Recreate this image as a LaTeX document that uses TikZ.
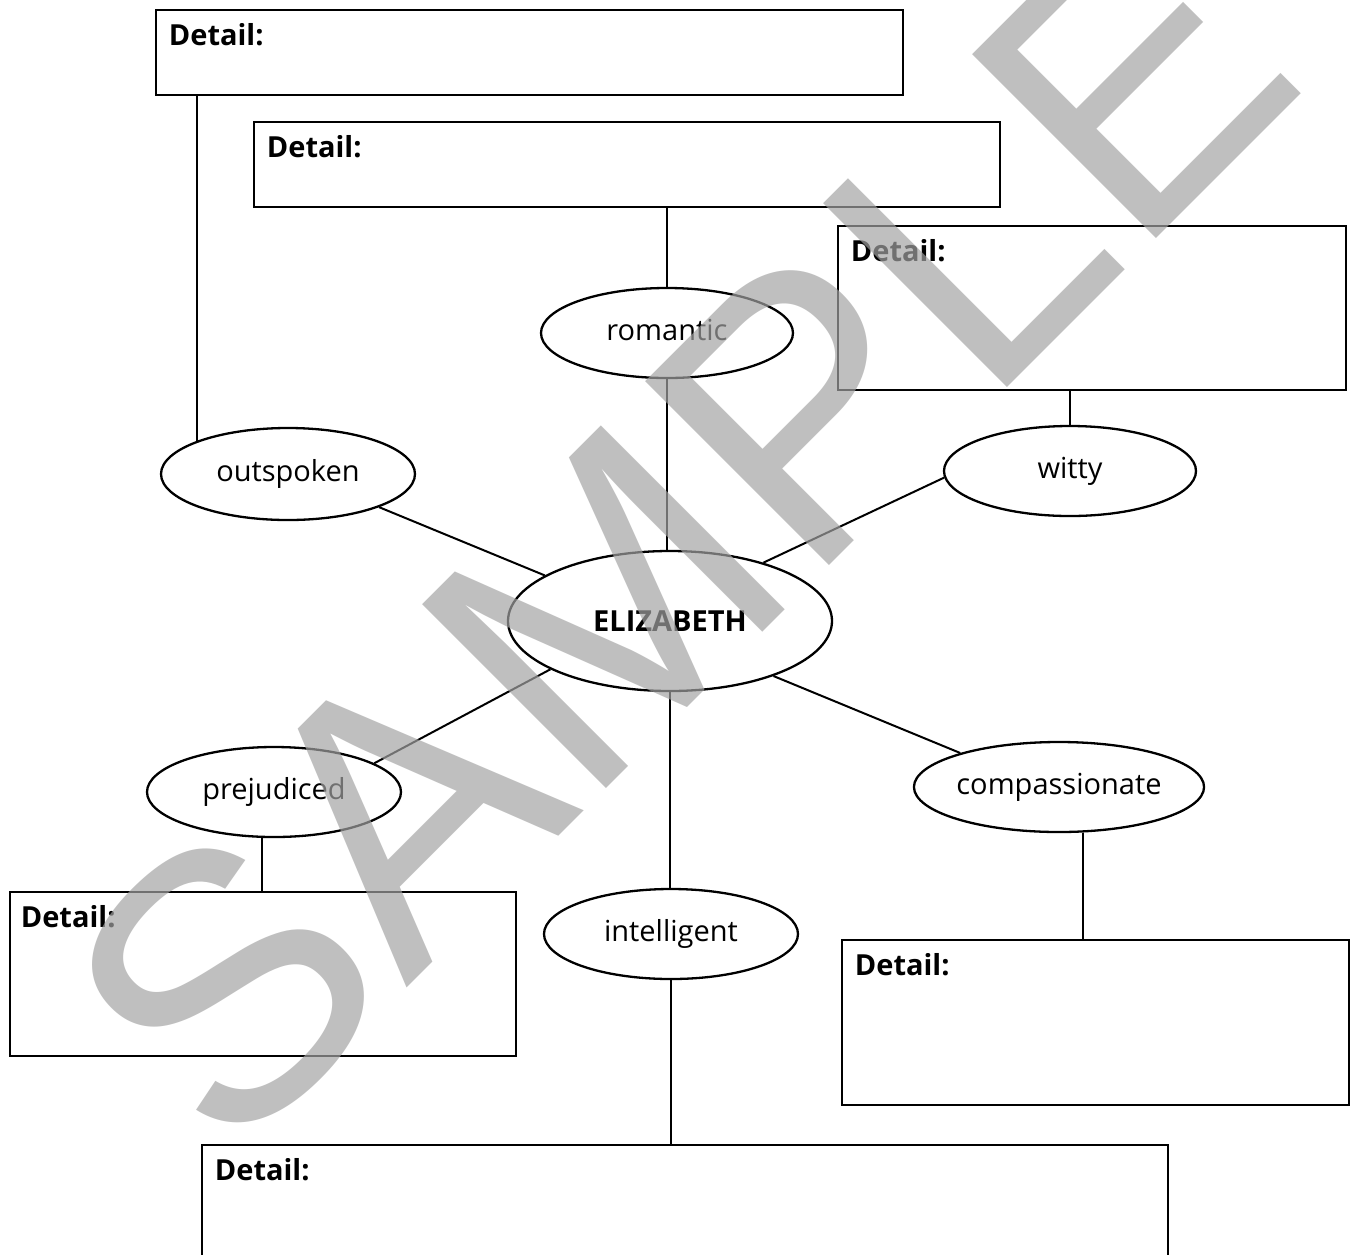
\documentclass[tikz,border=0pt]{standalone}
\usepackage{fontspec}
\setmainfont{Open Sans}
\newfontfamily\wmfont{Liberation Sans}
\usetikzlibrary{shapes.geometric,calc}
\definecolor{wmgray}{RGB}{163,163,163}
\begin{document}
\begin{tikzpicture}[x=1pt,y=-1pt,
  ell/.style={ellipse, draw, line width=2.3pt, inner sep=0pt, text height=15pt, text depth=0pt, font=\fontsize{29}{34}\selectfont},
  dbox/.style={rectangle, draw, line width=2.6pt, inner sep=0pt},
  dlabel/.style={anchor=base west, inner sep=0pt, font=\fontsize{29}{34}\selectfont\bfseries},
  conn/.style={line width=2pt},
  wmark/.style={anchor=base west, inner sep=0pt, rotate=45, text=wmgray, text opacity=0.69, font=\wmfont\fontsize{378}{378}\selectfont}]
\useasboundingbox (0,0) rectangle (1352,1254);
\clip (0,0) rectangle (1352,1254);
\fill[white] (0,0) rectangle (1352,1254);
% boxes
\node[dbox, minimum width=747pt, minimum height=85pt] (b1) at (529.5,52.5) {};
\node[dbox, minimum width=746pt, minimum height=85pt] (b2) at (627,164.5) {};
\node[dbox, minimum width=508pt, minimum height=164pt] (b3) at (1092,308) {};
\node[dbox, minimum width=506pt, minimum height=164pt] (b4) at (263,974) {};
\node[dbox, minimum width=507pt, minimum height=165pt] (b5) at (1095.5,1022.5) {};
\node[dbox, minimum width=966pt, minimum height=165pt] (b6) at (685,1227.5) {};
\node[dlabel] (t1) at ($(b1.north west)+(14,37)$) {Detail:};
\node[dlabel] (t2) at ($(b2.north west)+(14,37)$) {Detail:};
\node[dlabel] (t3) at ($(b3.north west)+(14,37)$) {Detail:};
\node[dlabel] (t4) at ($(b4.north west)+(12,37)$) {Detail:};
\node[dlabel] (t5) at ($(b5.north west)+(14,37)$) {Detail:};
\node[dlabel] (t6) at ($(b6.north west)+(14,37)$) {Detail:};
% ellipses
\node[ell, minimum width=252pt, minimum height=90pt] (romantic) at (667,333) {romantic};
\node[ell, minimum width=254pt, minimum height=92pt] (outsp) at (288,474) {outspoken};
\node[ell, minimum width=252pt, minimum height=90pt] (witty) at (1070,471) {witty};
\node[ell, minimum width=324pt, minimum height=140pt, text height=21pt] (eliz) at (670,621) {\bfseries ELIZABETH};
\node[ell, minimum width=254pt, minimum height=90pt] (prej) at (274,792) {prejudiced};
\node[ell, minimum width=282pt, minimum height=90pt] (comp) at (1059,787) {compassionate};
\node[ell, minimum width=254pt, minimum height=90pt] (intel) at (671,934) {intelligent};
% connectors
\draw[conn] (outsp.160.6) -- (outsp.160.6 |- b1.south);
\draw[conn] (romantic.north) -- (romantic.north |- b2.south);
\draw[conn] (romantic.south) -- (romantic.south |- eliz.north);
\draw[conn] (witty.north) -- (witty.north |- b3.south);
\draw[conn] (witty.183) -- (eliz.32);
\draw[conn] (outsp.340) -- (eliz.160.6);
\draw[conn] (eliz.202.5) -- (prej.16.9);
\draw[conn] (eliz.332) -- (comp.161.4);
\draw[conn] (eliz.south) -- (eliz.south |- intel.north);
\draw[conn] (prej.255) -- (prej.255 |- b4.north);
\draw[conn] (comp.298.5) -- (comp.298.5 |- b5.north);
\draw[conn] (intel.south) -- (intel.south |- b6.north);
% watermark
\node[wmark] (wm) at (228,1167) {SAMPLE};
\end{tikzpicture}
\end{document}
